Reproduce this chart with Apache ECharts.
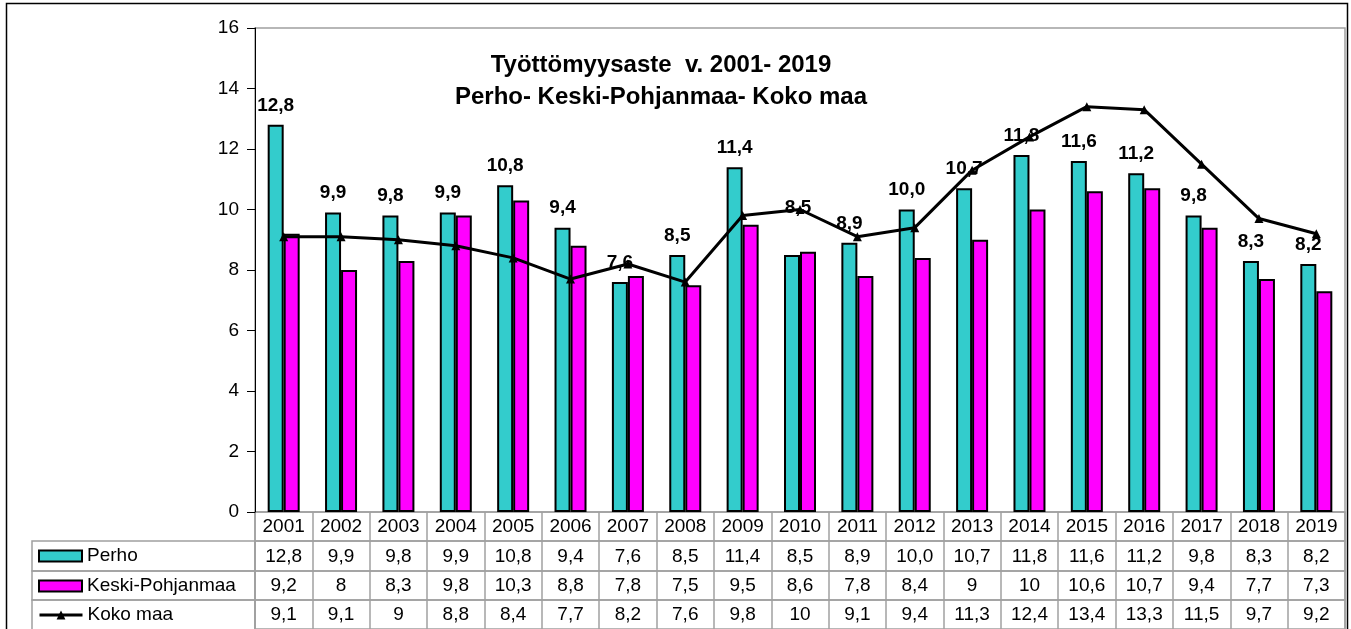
<!DOCTYPE html>
<html>
<head>
<meta charset="utf-8">
<title>Työttömyysaste 2001-2019</title>
<script src="https://cdn.jsdelivr.net/npm/echarts@6/dist/echarts.min.js"></script>
<style>
html, body { margin: 0; padding: 0; background: #fff; }
#main { width: 1351px; height: 629px; }
</style>
</head>
<body>
<div id="main"></div>
<script>
// tiedot
var years = ['2001', '2002', '2003', '2004', '2005', '2006', '2007', '2008', '2009', '2010',
             '2011', '2012', '2013', '2014', '2015', '2016', '2017', '2018', '2019'];
var perho = [12.8, 9.9, 9.8, 9.9, 10.8, 9.4, 7.6, 8.5, 11.4, 8.5, 8.9, 10.0, 10.7, 11.8, 11.6, 11.2, 9.8, 8.3, 8.2];
var keskiPohjanmaa = [9.2, 8, 8.3, 9.8, 10.3, 8.8, 7.8, 7.5, 9.5, 8.6, 7.8, 8.4, 9, 10, 10.6, 10.7, 9.4, 7.7, 7.3];
var kokoMaa = [9.1, 9.1, 9, 8.8, 8.4, 7.7, 8.2, 7.6, 9.8, 10, 9.1, 9.4, 11.3, 12.4, 13.4, 13.3, 11.5, 9.7, 9.2];
var yMin = 0, yMax = 16, yStep = 2;

(function () {
    var chart = echarts.init(document.getElementById('main'));
    var font = 'Liberation Sans, Arial, sans-serif';
    var gridLine = '#a0a0a0';

    // pilkku desimaalierottimena
    function fi(v, fixed) {
        return (fixed ? v.toFixed(1) : String(v)).replace('.', ',');
    }

    // taulukon rivit: vuodet + kolme sarjaa
    var rows = [
        { top: 512, h: 29, fmt: function (v, i) { return years[i]; } },
        { top: 541, h: 30, fmt: function (v, i) { return fi(perho[i], true); } },
        { top: 571, h: 29, fmt: function (v, i) { return fi(keskiPohjanmaa[i]); } },
        { top: 600, h: 30, fmt: function (v, i) { return fi(kokoMaa[i]); } }
    ];

    var grids = [{ left: 255, right: 6, top: 28, height: 484, show: true,
                   borderColor: gridLine, borderWidth: 1.5, backgroundColor: '#fff' }];
    var xAxes = [{ type: 'category', gridIndex: 0, data: years,
                   axisLine: { show: false }, axisTick: { show: false }, axisLabel: { show: false } }];
    var yAxes = [{
        type: 'value', gridIndex: 0, min: yMin, max: yMax, interval: yStep,
        axisLine: { show: true, lineStyle: { color: '#000', width: 1 } },
        axisTick: { show: true, length: 8, lineStyle: { color: '#000' } },
        axisLabel: { color: '#000', fontSize: 19, fontFamily: font, margin: 16 },
        splitLine: { show: false }
    }];

    rows.forEach(function (r, k) {
        grids.push({ left: 255, right: 6, top: r.top, height: r.h, show: true,
                     borderColor: gridLine, borderWidth: 1.5 });
        xAxes.push({
            type: 'category', gridIndex: k + 1, data: years, position: 'bottom',
            axisLine: { show: false }, axisTick: { show: false },
            splitLine: { show: true, interval: 0, lineStyle: { color: gridLine, width: 1.5 } },
            axisLabel: { inside: true, margin: 14, verticalAlign: 'middle', interval: 0,
                         color: '#000', fontSize: 19, fontFamily: font, formatter: r.fmt }
        });
        yAxes.push({ type: 'value', gridIndex: k + 1, show: false });
    });

    // selitteet taulukon vasempaan sarakkeeseen, yksi kullekin riville
    var legendNames = ['Perho', 'Keski-Pohjanmaa', 'Koko maa'];
    var legends = legendNames.map(function (n, k) {
        var r = rows[k + 1];
        return {
            orient: 'horizontal', left: 38, top: r.top + 15 - 10, padding: 0,
            itemWidth: 43, itemHeight: 11, selectedMode: false,
            lineStyle: { width: 3 },
            textStyle: { fontSize: 19, lineHeight: 20, color: '#000', fontFamily: font },
            data: [k < 2 ? { name: n, icon: 'rect' } : { name: n }]
        };
    });

    // 2010 arvon nimiö on siirretty ylemmäs
    var perhoData = perho.map(function (v, i) {
        var d = { value: v };
        if (years[i] === '2010') d.label = { offset: [6, -28] };
        return d;
    });

    var option = {
        animation: false,
        backgroundColor: '#fff',
        textStyle: { fontFamily: font },
        title: {
            text: 'Työttömyysaste  v. 2001- 2019\nPerho- Keski-Pohjanmaa- Koko maa',
            left: 661, top: 49, textAlign: 'center', padding: 0,
            textStyle: { fontSize: 24, fontWeight: 'bold', color: '#000', lineHeight: 32, fontFamily: font }
        },
        legend: legends,
        grid: grids,
        xAxis: xAxes,
        yAxis: yAxes,
        graphic: [
            // ulkokehys
            { type: 'rect', shape: { x: 6.5, y: 3.5, width: 1341, height: 640 },
              style: { fill: 'none', stroke: '#000', lineWidth: 1.5 }, z: 100 },
            // selitesarakkeen solut
            { type: 'rect', shape: { x: 32, y: 541, width: 223, height: 30 },
              style: { fill: 'none', stroke: gridLine, lineWidth: 1.5 } },
            { type: 'rect', shape: { x: 32, y: 571, width: 223, height: 29 },
              style: { fill: 'none', stroke: gridLine, lineWidth: 1.5 } },
            { type: 'rect', shape: { x: 32, y: 600, width: 223, height: 34 },
              style: { fill: 'none', stroke: gridLine, lineWidth: 1.5 } }
        ],
        series: [
            {
                name: 'Perho', type: 'bar', xAxisIndex: 0, yAxisIndex: 0,
                data: perhoData, barWidth: 16, barGap: '0%',
                itemStyle: { color: '#33CCCC', borderColor: '#000', borderWidth: 2 },
                label: {
                    show: true, position: 'top', distance: 10,
                    fontSize: 19, fontWeight: 'bold', color: '#000', fontFamily: font,
                    formatter: function (p) { return fi(p.value, true); }
                }
            },
            {
                name: 'Keski-Pohjanmaa', type: 'bar', xAxisIndex: 0, yAxisIndex: 0,
                data: keskiPohjanmaa, barWidth: 16, barGap: '0%',
                itemStyle: { color: '#FF00FF', borderColor: '#000', borderWidth: 2 }
            },
            {
                name: 'Koko maa', type: 'line', xAxisIndex: 0, yAxisIndex: 0,
                data: kokoMaa, symbol: 'triangle', symbolSize: 9, z: 5,
                lineStyle: { color: '#000', width: 3 },
                itemStyle: { color: '#000' }
            }
        ]
    };
    chart.setOption(option);
})();
</script>
</body>
</html>
